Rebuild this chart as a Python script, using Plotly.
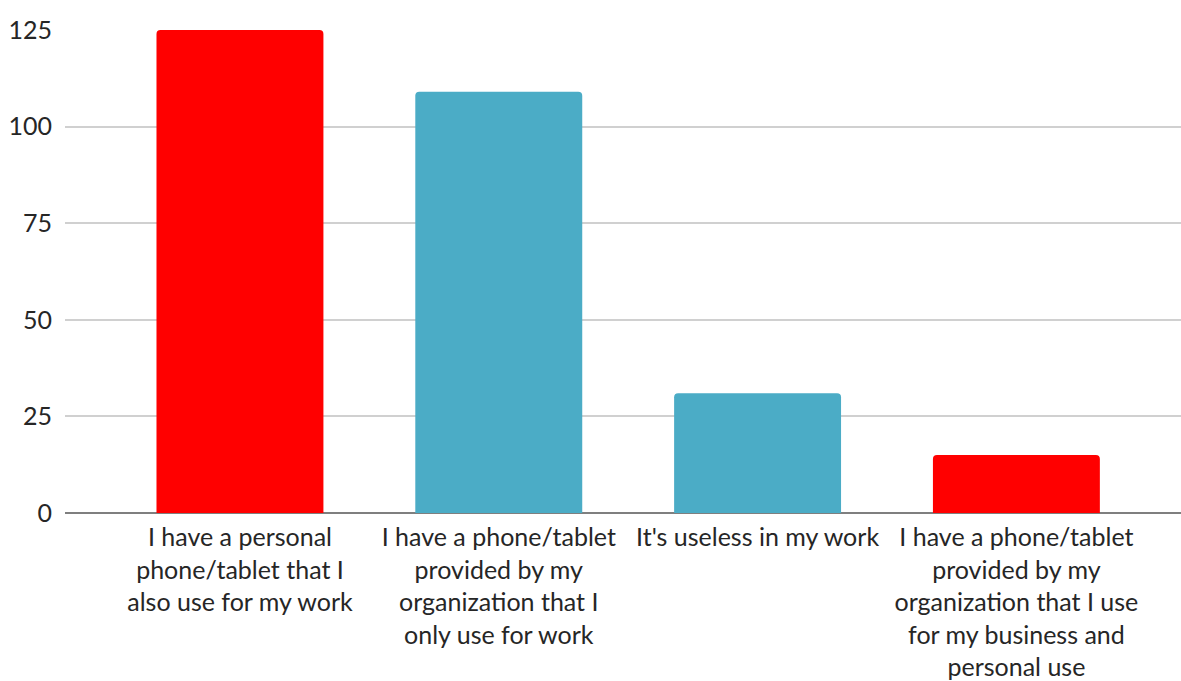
import plotly.graph_objects as go

categories = [
    "I have a personal<br>phone/tablet that I<br>also use for my work",
    "I have a phone/tablet<br>provided by my<br>organization that I<br>only use for work",
    "It's useless in my work",
    "I have a phone/tablet<br>provided by my<br>organization that I use<br>for my business and<br>personal use",
]
counts = [125, 109, 31, 15]
bar_colors = ["#FF0000", "#4BACC6", "#4BACC6", "#FF0000"]
y_ticks = [0, 25, 50, 75, 100, 125]

fig = go.Figure(
    go.Bar(
        x=list(range(len(categories))),
        y=counts,
        marker=dict(color=bar_colors, line=dict(width=0)),
        width=0.645,
    )
)

font_family = "Lato, 'Open Sans', sans-serif"
fig.update_layout(
    width=1181,
    height=681,
    margin=dict(l=65, r=0, t=30, b=168),
    paper_bgcolor="white",
    plot_bgcolor="white",
    barcornerradius=4,
    showlegend=False,
    font=dict(family=font_family, size=25, color="#262626"),
)
fig.update_xaxes(
    range=[-0.676, 3.636],
    tickvals=list(range(len(categories))),
    ticktext=categories,
    tickangle=0,
    showgrid=False,
    showline=False,
    zeroline=False,
    ticks="",
    ticklabelstandoff=7,
)
fig.update_yaxes(
    range=[0, 125],
    tickvals=y_ticks,
    showgrid=True,
    gridcolor="#D0D0D0",
    gridwidth=1.5,
    zeroline=True,
    zerolinecolor="#7F7F7F",
    zerolinewidth=1.5,
    showline=False,
    ticks="",
    ticklabelstandoff=12,
)

fig.write_html("out.html")
